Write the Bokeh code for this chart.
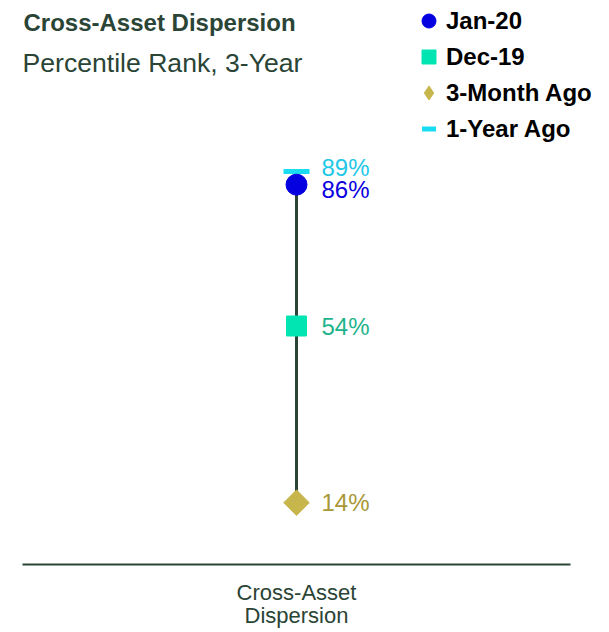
import math
from bokeh.plotting import figure
from bokeh.models import (Range1d, Label, Legend, LegendItem, ColumnDataSource,
                          LinearAxis, FixedTicker)
from bokeh.core.properties import value
from bokeh.embed import file_html
from bokeh.resources import INLINE

# ---- data ----
category = ["Cross-Asset Dispersion"]
category_lines = ["Cross-Asset", "Dispersion"]
series_names = ["Jan-20", "Dec-19", "3-Month Ago", "1-Year Ago"]
jan20 = [86]
dec19 = [54]
month3 = [14]
year1 = [89]

FONT = "Liberation Sans"
DARK = "#2a4436"

xs = list(range(len(category)))

p = figure(width=609, height=630, x_range=Range1d(-0.5, 0.5547), y_range=Range1d(0, 127.7),
           output_backend="svg", toolbar_location=None, x_axis_location=None,
           min_border_left=22, min_border_right=9, min_border_top=0, min_border_bottom=0)
p.outline_line_color = None
p.xgrid.visible = False
p.ygrid.visible = False
p.yaxis.visible = False
p.background_fill_color = "white"
p.border_fill_color = "white"

def make_axis(text, line, standoff):
    ax = LinearAxis(ticker=FixedTicker(ticks=xs, minor_ticks=[]),
                    major_label_overrides={xs[0]: text})
    ax.bounds = (-0.5, 0.5)
    ax.axis_line_color = DARK if line else None
    ax.axis_line_width = 2
    ax.major_tick_line_color = None
    ax.minor_tick_line_color = None
    ax.major_tick_out = 0
    ax.major_tick_in = 0
    ax.major_label_text_font = FONT
    ax.major_label_text_font_size = "22px"
    ax.major_label_text_color = DARK
    ax.major_label_standoff = standoff
    return ax

p.add_layout(make_axis(category_lines[0], True, 15), "below")
p.add_layout(make_axis(category_lines[1], False, -5), "below")

# connecting line between current and 3-month values
p.segment(x0=xs, y0=jan20, x1=xs, y1=month3, line_color=DARK, line_width=3)

M3_COLOR = "#c7b64c"
r_year = p.scatter(x=xs, y=year1, marker="dash", size=26, line_color="#19dcf2", line_width=5)
r_jan = p.scatter(x=xs, y=jan20, marker="circle", size=21, fill_color="#0500e0", line_color="#0500e0")
r_dec = p.scatter(x=xs, y=dec19, marker="square", size=20, fill_color="#00e5b2", line_color="#00e5b2")
# diamond glyph (used for the legend swatch), fully covered by the square-diamond drawn on top
r_m3_leg = p.scatter(x=xs, y=month3, marker="diamond", size=24, fill_color=M3_COLOR, line_color=M3_COLOR)
r_m3 = p.scatter(x=xs, y=month3, marker="square", angle=math.pi / 4, size=18,
                 fill_color=M3_COLOR, line_color=M3_COLOR)

label_vals = [jan20[0], dec19[0], month3[0], year1[0]]
label_colors = ["#0a00e0", "#1fb48c", "#a89838", "#22c8e6"]
label_dy = [5, 0, 0, -4]
src = ColumnDataSource(dict(x=xs * 4, y=label_vals,
                            t=[f"{v}%" for v in label_vals], c=label_colors, dy=label_dy))
p.text(x="x", y="y", text="t", source=src, x_offset=25, y_offset="dy",
       text_color="c", text_font=value(FONT), text_font_size="24px",
       text_baseline="middle", text_align="left")

legend = Legend(items=[LegendItem(label=series_names[0], renderers=[r_jan]),
                       LegendItem(label=series_names[1], renderers=[r_dec]),
                       LegendItem(label=series_names[2], renderers=[r_m3_leg]),
                       LegendItem(label=series_names[3], renderers=[r_year])],
                location=(389, 418), glyph_width=35, glyph_height=35, spacing=1,
                padding=0, margin=0, label_standoff=0,
                label_text_font=FONT, label_text_font_size="24px",
                label_text_font_style="bold", label_text_color="black",
                background_fill_alpha=0, border_line_color=None)
p.add_layout(legend, "center")

p.add_layout(Label(x=1, y=542, x_units="screen", y_units="screen", text="Cross-Asset Dispersion",
                   text_font=FONT, text_font_size="24px", text_font_style="bold",
                   text_color=DARK, text_baseline="middle"))
p.add_layout(Label(x=0, y=501.5, x_units="screen", y_units="screen", text="Percentile Rank, 3-Year",
                   text_font=FONT, text_font_size="26.6px",
                   text_color=DARK, text_baseline="middle"))

open("out.html", "w").write(file_html(p, INLINE))
